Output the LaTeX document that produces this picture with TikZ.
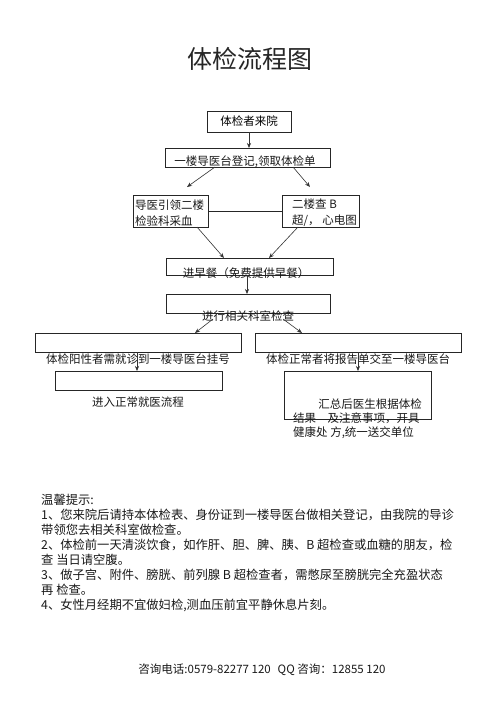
\documentclass[tikz,border=0pt]{standalone}
\usepackage{fontspec}
\setmainfont{Noto Sans CJK SC}
\usetikzlibrary{arrows.meta}
\begin{document}
\begin{tikzpicture}[x=1pt,y=-1pt,
  box/.style={draw=black!85,line width=0.7pt,inner sep=0pt,outer sep=0pt,font=\fontsize{11.5}{14}\selectfont},
  txt/.style={inner sep=0pt,text=black!90,font=\fontsize{11.5}{14}\selectfont},
  note/.style={inner sep=0pt,anchor=west,text=black!90,font=\fontsize{12.3}{15}\selectfont},
  arr/.style={draw=black!80,line width=0.6pt,-{Stealth[length=5pt,width=4pt]}}]
\useasboundingbox[fill=white] (0,0) rectangle (496,702);
% title
\node[inner sep=0pt,text=black!85,font=\fontsize{25}{30}\selectfont] (title) at (250,59) {体检流程图};
% boxes
\node[box,minimum width=84pt,minimum height=21pt] (n1) at (249,121.5) {体检者来院};
\node[box,minimum width=165pt,minimum height=19pt] (n2) at (247.5,157.5) {};
\node[txt] (t2) at (245,162) {一楼导医台登记,领取体检单};
\node[box,minimum width=75pt,minimum height=32pt] (n3a) at (170.5,211) {};
\node[txt,anchor=west,align=left,font=\fontsize{11.5}{16}\selectfont] (t3a) at (135,213) {导医引领二楼\\检验科采血};
\node[box,minimum width=77pt,minimum height=32pt] (n3b) at (320.5,211) {};
\node[txt,anchor=west,align=left,font=\fontsize{11.5}{16}\selectfont] (t3b) at (292,213) {二楼查 B\\超/， 心电图};
\node[box,minimum width=167pt,minimum height=17pt] (n4) at (249.5,266.5) {};
\node[txt] (t4) at (246,273) {进早餐（免费提供早餐）};
\node[box,minimum width=164pt,minimum height=19pt] (n5) at (248,303.5) {};
\node[txt] (t5) at (248,316) {进行相关科室检查};
\node[box,minimum width=206pt,minimum height=19pt] (n6a) at (138,342.5) {};
\node[txt] (t6a) at (138,359) {体检阳性者需就诊到一楼导医台挂号};
\node[box,minimum width=206pt,minimum height=19pt] (n6b) at (358,342.5) {};
\node[txt] (t6b) at (358,359) {体检正常者将报告单交至一楼导医台};
\node[box,minimum width=167pt,minimum height=19pt] (n7a) at (138.5,380.5) {};
\node[txt] (t7a) at (138,402) {进入正常就医流程};
\node[box,minimum width=147pt,minimum height=48pt] (n7b) at (357.5,395) {};
\node[txt,anchor=east] (t7b1) at (422,404) {汇总后医生根据体检};
\node[txt,anchor=west] (t7b2) at (293,418) {结果\hspace{1em}及注意事项，开具};
\node[txt,anchor=west] (t7b3) at (293,433) {健康处 方,统一送交单位};
% connectors
\draw[arr] (n1.south) -- (n1.south |- n2.north);
\draw[arr] ([xshift=50pt]n2.south west) -- ([xshift=54pt,yshift=8pt]n3a.north west);
\draw[arr] ([xshift=128pt]n2.south west) -- ([xshift=28pt,yshift=8pt]n3b.north west);
\draw[draw=black!85,line width=0.7pt] (n3a.east) -- (n3b.west);
\draw[arr] ([xshift=64pt]n3a.south west) -- ([xshift=58pt]n4.north west);
\draw[arr] ([xshift=16pt]n3b.south west) -- ([xshift=103pt]n4.north west);
\draw[arr] ([xshift=81pt]n4.south west) -- ([xshift=81pt]n4.south west |- n5.north);
\draw[arr] ([xshift=47pt,yshift=-6pt]n5.south west) -- ([xshift=160pt]n6a.north west);
\draw[arr] ([xshift=117pt,yshift=-6pt]n5.south west) -- ([xshift=47pt]n6b.north west);
\draw[arr] ([xshift=102pt]n6a.south west) -- ([xshift=82pt]n7a.north west);
\draw[arr] ([xshift=103pt]n6b.south west) -- ([xshift=74pt]n7b.north west);
% notes
\node[note] (h0) at (41,500) {温馨提示:};
\node[note] (h1) at (41,515) {1、您来院后请持本体检表、身份证到一楼导医台做相关登记，由我院的导诊};
\node[note] (h2) at (41,530) {带领您去相关科室做检查。};
\node[note] (h3) at (41,545) {2、体检前一天清淡饮食，如作肝、胆、脾、胰、B 超检查或血糖的朋友，检};
\node[note] (h4) at (41,560) {查 当日请空腹。};
\node[note] (h5) at (41,575) {3、做子宫、附件、膀胱、前列腺 B 超检查者，需憋尿至膀胱完全充盈状态};
\node[note] (h6) at (41,590) {再 检查。};
\node[note] (h7) at (41,605) {4、女性月经期不宜做妇检,测血压前宜平静休息片刻。};
% footer
\node[txt] (foot) at (262,670) {咨询电话:0579-82277 120\hspace{0.6em}QQ 咨询：12855 120};
\end{tikzpicture}
\end{document}
